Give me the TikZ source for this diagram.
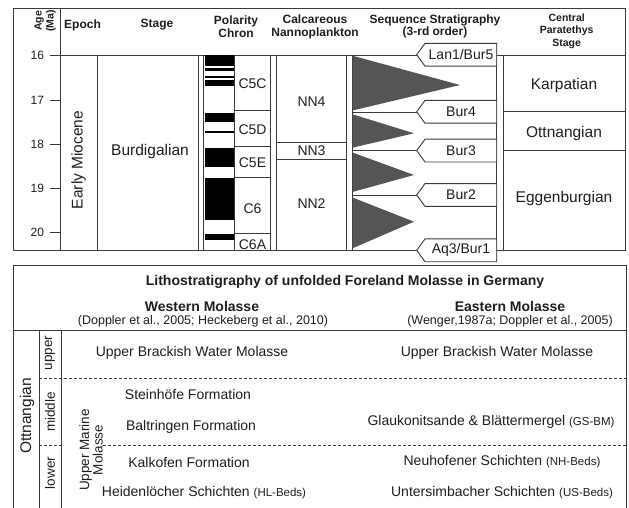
\documentclass[tikz,border=0pt]{standalone}
\usepackage{fontspec}
\setmainfont{Liberation Sans}
\definecolor{ln}{HTML}{3A3A3A}
\definecolor{tri}{HTML}{555555}
\definecolor{txc}{HTML}{1E1E1E}
\newcommand\seqtag[3]{%
  \draw[ln, fill=white] (496.7,#2-11.4) -- (425,#2-11.4) -- (416.7,#2) -- (425,#2+11.4) -- (496.7,#2+11.4) -- cycle;
  \node[tx] (#1) at (461,#2) {#3};}
\begin{document}
\begin{tikzpicture}[x=1pt,y=-1pt, line width=0.9pt,
  tx/.style={inner sep=0pt, text=txc, font=\fontsize{14}{16}\selectfont},
  big/.style={inner sep=0pt, text=txc, font=\fontsize{15.5}{17}\selectfont},
  hd/.style={inner sep=0pt, text=txc, align=center, font=\bfseries\fontsize{12}{12.6}\selectfont},
  hds/.style={inner sep=0pt, text=txc, align=center, font=\bfseries\fontsize{10.5}{12.5}\selectfont},
  num/.style={inner sep=0pt, text=txc, anchor=east, font=\fontsize{12}{14}\selectfont},
  dsh/.style={ln, line width=0.7pt, dash pattern=on 3pt off 2pt}]
\useasboundingbox (0,0) rectangle (629,508);
% ---------------- upper table ----------------
\draw[ln] (13.3,8.3) rectangle (625,250);
\draw[ln] (60,55) -- (625,55);
\draw[ln] (60,8.3) -- (60,250);
\draw[ln] (97.3,55) -- (97.3,250);
\foreach \x in {198.7,203.7,270,276,346.5,352}{\draw[ln] (\x,55) -- (\x,250);}
\draw[ln] (234.3,55) -- (234.3,250);
\draw[ln] (503.3,55) -- (503.3,250);
\draw[ln] (496.7,43) -- (496.7,262);
% age ticks
\foreach \y in {55,100.5,144.3,188.3,232.3}{\draw[ln] (50,\y) -- (60,\y);}
% polarity bars
\fill[black] (205,55) rectangle (234.3,65.7);
\fill[black] (205,68.3) rectangle (234.3,70.7);
\fill[black] (205,76) rectangle (234.3,77.7);
\fill[black] (205,79.7) rectangle (234.3,85.7);
\fill[black] (205,113) rectangle (234.3,122);
\fill[black] (205,131.5) rectangle (234.3,133.3);
\fill[black] (205,148.3) rectangle (234.3,166.7);
\fill[black] (205,178.3) rectangle (234.3,220);
\fill[black] (205,234.3) rectangle (234.3,240);
% chron boundaries
\foreach \y in {110.7,146,177,233.3}{\draw[ln] (234.3,\y) -- (270,\y);}
% nannoplankton boundaries
\foreach \y in {142.3,159.7}{\draw[ln] (276,\y) -- (346.5,\y);}
% central paratethys boundaries
\foreach \y in {111.7,150.7}{\draw[ln] (503.3,\y) -- (625,\y);}
% sequence triangles
\fill[tri] (352.5,55.7) -- (460,85) -- (352.5,110.5) -- cycle;
\fill[tri] (352.5,114.3) -- (414,133.3) -- (352.5,147.7) -- cycle;
\fill[tri] (352.5,152.5) -- (414,175) -- (352.5,192) -- cycle;
\fill[tri] (352.5,197.5) -- (414,221.7) -- (352.5,248.3) -- cycle;
\foreach \y in {112,150.6,195}{\draw[ln] (352,\y) -- (416.7,\y);}
% sequence tags
\seqtag{lan}{54.8}{Lan1/Bur5}
\seqtag{bur4}{111.8}{Bur4}
\seqtag{bur3}{150.6}{Bur3}
\seqtag{bur2}{195}{Bur2}
\seqtag{aq3}{250.3}{Aq3/Bur1}
% headers
\node[hd, rotate=90, font=\bfseries\fontsize{10.5}{12}\selectfont] (hage) at (45,21) {Age\\(Ma)};
\node[hd] (hepoch) at (82.5,25) {Epoch};
\node[hd] (hstage) at (157,25) {Stage};
\node[hd] (hpol) at (236,27) {Polarity\\Chron};
\node[hd] (hnan) at (315,27) {Calcareous\\Nannoplankton};
\node[hd] (hseq) at (435,26.5) {Sequence Stratigraphy\\(3-rd order)};
\node[hds] (hcen) at (566.7,31) {Central\\Paratethys\\Stage};
% age numbers
\node[num] (n16) at (44.5,55) {16};
\node[num] (n17) at (44.5,100.5) {17};
\node[num] (n18) at (44.5,144.3) {18};
\node[num] (n19) at (44.5,188.3) {19};
\node[num] (n20) at (44.5,232.3) {20};
% body texts
\node[big, rotate=90] (epoch) at (78.5,160) {Early Miocene};
\node[big] (stage) at (150,151) {Burdigalian};
\node[tx] (c5c) at (252.5,84) {C5C};
\node[tx] (c5d) at (252.5,130) {C5D};
\node[tx] (c5e) at (252.5,162.3) {C5E};
\node[tx] (c6) at (252.5,208.3) {C6};
\node[tx] (c6a) at (252.5,244.5) {C6A};
\node[tx] (nn4) at (311.5,101.7) {NN4};
\node[tx] (nn3) at (311.5,150.7) {NN3};
\node[tx] (nn2) at (311.5,203.3) {NN2};
\node[big] (karp) at (564,85) {Karpatian};
\node[big] (ottn) at (564,133) {Ottnangian};
\node[big] (egg) at (564,198.3) {Eggenburgian};
% ---------------- lower table ----------------
\draw[ln] (13.3,508) -- (13.3,265) -- (626,265) -- (626,508);
\draw[ln] (13.3,330) -- (626,330);
\draw[ln] (39.3,330) -- (39.3,508);
\draw[ln] (61.7,330) -- (61.7,508);
\draw[dsh] (39.3,378.3) -- (626,378.3);
\draw[dsh] (39.3,445.7) -- (61.7,445.7);
\draw[dsh] (103,445.7) -- (626,445.7);
\node[hd, font=\bfseries\fontsize{14}{16}\selectfont] (litho) at (345,282) {Lithostratigraphy of unfolded Foreland Molasse in Germany};
\node[hd, font=\bfseries\fontsize{14}{16}\selectfont] (west) at (202,306) {Western Molasse};
\node[tx, font=\fontsize{12.5}{14}\selectfont] (westref) at (203,321) {(Doppler et al., 2005; Heckeberg et al., 2010)};
\node[hd, font=\bfseries\fontsize{14}{16}\selectfont] (east) at (510,306) {Eastern Molasse};
\node[tx, font=\fontsize{12.5}{14}\selectfont] (eastref) at (510,321) {(Wenger,1987a; Doppler et al., 2005)};
\node[big, rotate=90] (ott) at (27,416) {Ottnangian};
\node[tx, rotate=90, font=\fontsize{13.5}{15}\selectfont] (upper) at (50,353) {upper};
\node[tx, rotate=90, font=\fontsize{13.5}{15}\selectfont] (middle) at (50,412) {middle};
\node[tx, rotate=90, font=\fontsize{13.5}{15}\selectfont] (lower) at (50,473) {lower};
\node[tx, rotate=90, align=center, font=\fontsize{13.5}{13.5}\selectfont] (umm) at (91,450) {Upper Marine\\Molasse};
\node[tx] (ubw1) at (192,353) {Upper Brackish Water Molasse};
\node[tx] (ubw2) at (497,353) {Upper Brackish Water Molasse};
\node[tx] (stein) at (188,394) {Steinhöfe Formation};
\node[tx] (balt) at (191,427) {Baltringen Formation};
\node[tx] (glauk) at (491,422) {Glaukonitsande \& Blättermergel {\fontsize{11.5}{13}\selectfont(GS-BM)}};
\node[tx] (kalk) at (189,462) {Kalkofen Formation};
\node[tx] (heid) at (204,493) {Heidenlöcher Schichten {\fontsize{11.5}{13}\selectfont(HL-Beds)}};
\node[tx] (neuh) at (502,462) {Neuhofener Schichten {\fontsize{11.5}{13}\selectfont(NH-Beds)}};
\node[tx] (unter) at (502,493) {Untersimbacher Schichten {\fontsize{11.5}{13}\selectfont(US-Beds)}};
\end{tikzpicture}
\end{document}
